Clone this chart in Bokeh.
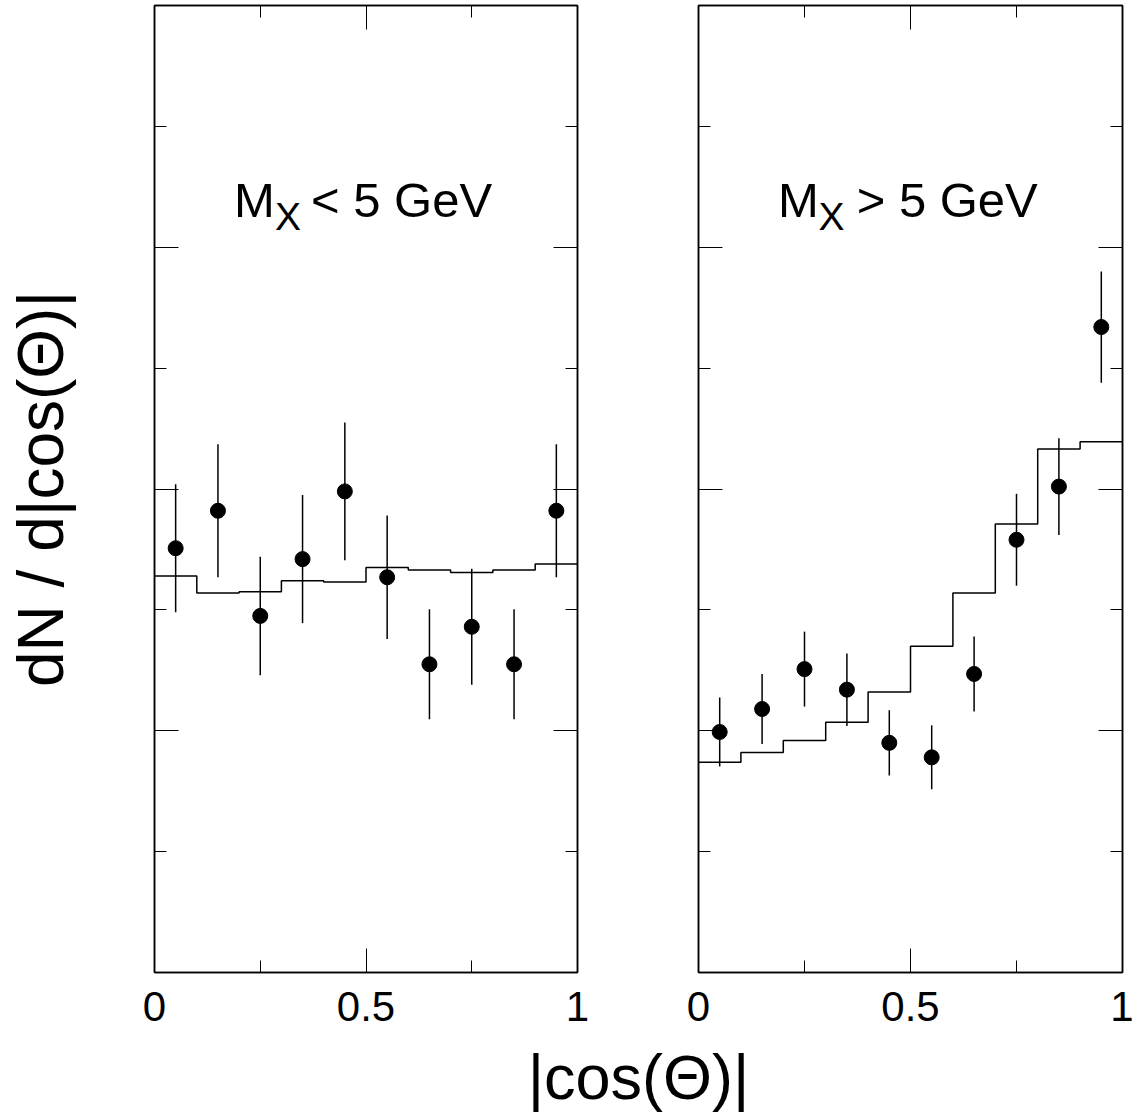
"""
Angular distribution |cos(Theta)| for two M_X regions, data points vs. MC histogram
"""

from bokeh.plotting import figure
from bokeh.models import Range1d, FixedTicker, LinearAxis, Label, CustomLabelingPolicy
from bokeh.layouts import row, column
from bokeh.embed import file_html
from bokeh.resources import INLINE

FONT = "Liberation Sans"

# bin centres and edges in |cos(Theta)|
bin_centres = [0.05, 0.15, 0.25, 0.35, 0.45, 0.55, 0.65, 0.75, 0.85, 0.95]
bin_edges = [0.0, 0.1, 0.2, 0.3, 0.4, 0.5, 0.6, 0.7, 0.8, 0.9, 1.0]

# M_X < 5 GeV
low_data = [3.51, 3.82, 2.95, 3.42, 3.98, 3.27, 2.55, 2.86, 2.55, 3.82]
low_err = [0.53, 0.55, 0.49, 0.53, 0.57, 0.51, 0.455, 0.48, 0.455, 0.55]
low_mc = [3.28, 3.14, 3.15, 3.24, 3.23, 3.35, 3.33, 3.31, 3.33, 3.38]

# M_X > 5 GeV
high_data = [1.99, 2.18, 2.51, 2.34, 1.90, 1.78, 2.47, 3.58, 4.02, 5.34]
high_err = [0.285, 0.29, 0.31, 0.30, 0.27, 0.265, 0.31, 0.38, 0.40, 0.46]
high_mc = [1.74, 1.82, 1.92, 2.07, 2.32, 2.70, 3.14, 3.71, 4.33, 4.39]

# axes
x_ticks = [0, 0.5, 1]
x_minor = [0.25, 0.75]
x_tick_labels = ["0", "0.5", "1"]
y_ticks = [0, 2, 4, 6, 8]
y_minor = [1, 3, 5, 7]


def style_axis(ax, ticks, minor, show_labels=False):
    ax.ticker = FixedTicker(ticks=ticks, minor_ticks=minor)
    ax.major_tick_in = 24
    ax.major_tick_out = 0
    ax.minor_tick_in = 12
    ax.minor_tick_out = 0
    ax.axis_line_width = 1.5
    ax.axis_line_color = "black"
    ax.major_tick_line_color = "black"
    ax.minor_tick_line_color = "black"
    ax.major_tick_line_width = 1
    ax.minor_tick_line_width = 1
    if show_labels:
        ax.major_label_overrides = dict(zip(ticks, x_tick_labels))
        ax.major_label_text_font = FONT
        ax.major_label_text_font_size = "42px"
        ax.major_label_text_color = "black"
        ax.major_label_standoff = 19
    else:
        # ticks only, no numbers
        ax.major_label_policy = CustomLabelingPolicy(code="return []")
        ax.major_label_text_font_size = "1px"
        ax.major_label_standoff = 0


def make_panel(data, err, mc, width, left, right):
    p = figure(width=width, height=1035, x_range=Range1d(0, 1), y_range=Range1d(0, 8),
               output_backend="svg", toolbar_location=None,
               min_border_left=left, min_border_right=right,
               min_border_top=5, min_border_bottom=63)
    p.grid.visible = False
    p.outline_line_color = "black"
    p.outline_line_width = 1.5
    p.background_fill_color = "white"
    p.border_fill_color = "white"

    style_axis(p.below[0], x_ticks, x_minor, show_labels=True)
    style_axis(p.left[0], y_ticks, y_minor)
    top = LinearAxis()
    style_axis(top, x_ticks, x_minor)
    p.add_layout(top, "above")
    rgt = LinearAxis()
    style_axis(rgt, y_ticks, y_minor)
    p.add_layout(rgt, "right")

    # MC histogram
    p.step(x=bin_edges, y=mc + [mc[-1]], mode="after", line_color="black", line_width=1.5)
    # data with error bars
    p.segment(x0=bin_centres, y0=[d - e for d, e in zip(data, err)],
              x1=bin_centres, y1=[d + e for d, e in zip(data, err)],
              line_color="black", line_width=1.5)
    p.scatter(bin_centres, data, size=15, color="black")
    return p


def panel_label(p, op, xm, xx, xo):
    p.add_layout(Label(x=xm, y=6.387, text="M", text_font=FONT, text_font_size="49px",
                       text_align="left", text_baseline="alphabetic", text_color="black"))
    p.add_layout(Label(x=xx, y=6.254, text="X", text_font=FONT, text_font_size="39px",
                       text_align="left", text_baseline="alphabetic", text_color="black"))
    p.add_layout(Label(x=xo, y=6.387, text=op + " 5 GeV", text_font=FONT, text_font_size="49px",
                       text_align="left", text_baseline="alphabetic", text_color="black"))


p1 = make_panel(low_data, low_err, low_mc, 637, 154, 60)
panel_label(p1, "<", 0.188, 0.285, 0.370)
yax = p1.left[0]
yax.axis_label = "dN / d|cos(\u0398)|"
yax.axis_label_text_font = FONT
yax.axis_label_text_font_size = "64px"
yax.axis_label_text_font_style = "normal"
yax.axis_label_text_color = "black"
yax.axis_label_standoff = 74

p2 = make_panel(high_data, high_err, high_mc, 496, 61, 11)
panel_label(p2, ">", 0.1875, 0.283, 0.373)

# shared x title
p3 = figure(width=1133, height=77, x_range=Range1d(0, 1133), y_range=Range1d(0, 77),
            output_backend="svg", toolbar_location=None,
            min_border_left=0, min_border_right=0, min_border_top=0, min_border_bottom=0)
p3.axis.visible = False
p3.grid.visible = False
p3.outline_line_color = None
p3.add_layout(Label(x=638, y=36, text="|cos(\u0398)|", text_font=FONT, text_font_size="63px",
                    text_align="center", text_baseline="middle", text_color="black"))

layout = column(row(p1, p2), p3)

open("out.html", "w").write(file_html(layout, INLINE))
